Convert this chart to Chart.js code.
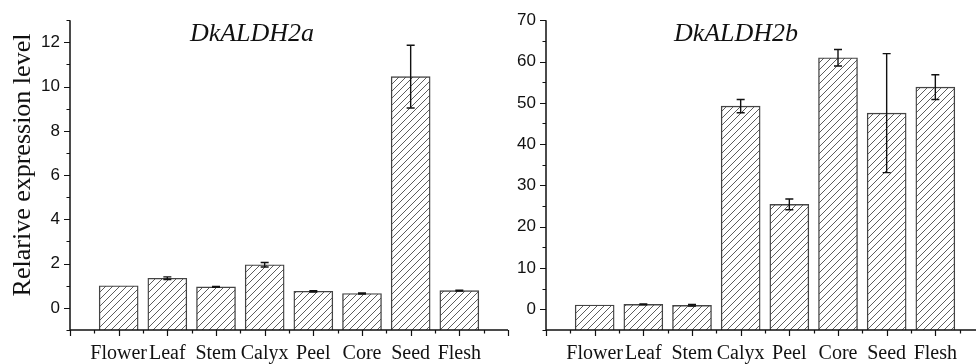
<!DOCTYPE html>
<html>
<head>
<meta charset="utf-8">
<script src="https://cdn.jsdelivr.net/npm/chart.js@4.4.0/dist/chart.umd.min.js"></script>
<style>
  html, body { margin: 0; padding: 0; background: #fff; overflow: hidden; width: 976px; height: 364px; position: relative; }
  canvas { position: absolute; top: 0; }
  #chartA { left: 0; }
  #chartB { left: 476px; }
</style>
</head>
<body>
<canvas id="chartA" width="520" height="364"></canvas>
<canvas id="chartB" width="520" height="364"></canvas>
<script>
// tissues
const categories = ['Flower', 'Leaf', 'Stem', 'Calyx', 'Peel', 'Core', 'Seed', 'Flesh'];

// DkALDH2a
const valuesA = [1.0, 1.34, 0.95, 1.95, 0.75, 0.65, 10.45, 0.78];
const errorsA = [0, 0.06, 0.02, 0.1, 0.03, 0.02, 1.42, 0.02];

// DkALDH2b
const valuesB = [1.04, 1.2, 0.97, 49.2, 25.4, 60.9, 47.5, 53.8];
const errorsB = [0, 0.1, 0.2, 1.6, 1.3, 2.0, 14.4, 3.0];

const INK = '#111';

function hatchPattern() {
  const c = document.createElement('canvas');
  c.width = 7; c.height = 7;
  const g = c.getContext('2d');
  g.fillStyle = '#fff';
  g.fillRect(0, 0, 7, 7);
  g.strokeStyle = '#333';
  g.lineWidth = 0.8;
  g.beginPath();
  g.moveTo(-1, 8); g.lineTo(8, -1);
  g.moveTo(-1, 1); g.lineTo(1, -1);
  g.moveTo(6, 8); g.lineTo(8, 6);
  g.stroke();
  return g.createPattern(c, 'repeat');
}

// axes, tick marks, error bars and panel title
function decor(title, titleX, errors, yMinor, yLabelEvery, yTitle) {
  return {
    id: 'decor',
    afterDatasetsDraw(chart) {
      const ctx = chart.ctx;
      const xs = chart.scales.x, ys = chart.scales.y;
      const vals = chart.data.datasets[0].data;
      ctx.save();
      ctx.strokeStyle = INK;
      ctx.lineWidth = 1.4;
      vals.forEach((p, i) => {
        const e = errors[i];
        if (!e) return;
        const x = xs.getPixelForValue(p.x);
        const t = ys.getPixelForValue(p.y + e);
        const b = ys.getPixelForValue(p.y - e);
        ctx.beginPath();
        ctx.moveTo(x, t); ctx.lineTo(x, b);
        ctx.moveTo(x - 4, t); ctx.lineTo(x + 4, t);
        ctx.moveTo(x - 4, b); ctx.lineTo(x + 4, b);
        ctx.stroke();
      });
      ctx.restore();
    },
    afterDraw(chart) {
      const ctx = chart.ctx;
      const xs = chart.scales.x, ys = chart.scales.y;
      const a = chart.chartArea;
      ctx.save();
      ctx.strokeStyle = INK;
      ctx.lineWidth = 1.5;
      ctx.beginPath();
      ctx.moveTo(a.left, a.top); ctx.lineTo(a.left, a.bottom);
      ctx.moveTo(a.left, a.bottom); ctx.lineTo(a.right, a.bottom);
      ctx.stroke();
      ctx.lineWidth = 1.2;
      ctx.beginPath();
      for (let v = xs.min; v <= xs.max; v += 0.5) {
        const x = Math.round(xs.getPixelForValue(v)) + 0.5;
        const len = Number.isInteger(v) ? 6 : 3.5;
        ctx.moveTo(x, a.bottom); ctx.lineTo(x, a.bottom + len);
      }
      for (let v = ys.min; v <= ys.max; v += yMinor) {
        const y = Math.round(ys.getPixelForValue(v)) + 0.5;
        const len = (v % yLabelEvery === 0) ? 6 : 3.5;
        ctx.moveTo(a.left, y); ctx.lineTo(a.left - len, y);
      }
      ctx.stroke();
      ctx.fillStyle = INK;
      ctx.font = 'italic 26px "Liberation Serif"';
      ctx.textAlign = 'center';
      ctx.textBaseline = 'alphabetic';
      ctx.fillText(title, titleX, 41);
      if (yTitle) {
        ctx.translate(23, 165);
        ctx.rotate(-Math.PI / 2);
        ctx.font = '26px "Liberation Serif"';
        ctx.textBaseline = 'middle';
        ctx.fillText(yTitle, 0, 0);
      }
      ctx.restore();
    }
  };
}

function buildChart(id, values, errors, yMin, yMax, yMinor, yLabelEvery, title, titleX, yTitle) {
  const ctx = document.getElementById(id).getContext('2d');
  return new Chart(ctx, {
    type: 'bar',
    data: {
      datasets: [{
        data: values.map((v, i) => ({ x: i + 1, y: v })),
        base: yMin,
        backgroundColor: hatchPattern(),
        borderColor: '#444',
        borderWidth: 1.4,
        barThickness: 39
      }]
    },
    options: {
      responsive: false,
      animation: false,
      layout: { padding: { top: 20, right: 9, left: 0, bottom: 0 } },
      plugins: { legend: { display: false }, tooltip: { enabled: false } },
      scales: {
        x: {
          type: 'linear',
          offset: false,
          min: 0,
          max: 9,
          grid: { display: false, drawTicks: false, offset: false },
          border: { display: false },
          afterFit: (s) => { s.height = 34; },
          ticks: {
            stepSize: 0.5,
            autoSkip: false,
            maxRotation: 0,
            padding: 12,
            color: INK,
            font: { family: 'Liberation Serif', size: 20 },
            callback: (v) => (Number.isInteger(v) && v >= 1 && v <= 8) ? categories[v - 1] : ''
          }
        },
        y: {
          min: yMin,
          max: yMax,
          grid: { display: false, drawTicks: false },
          border: { display: false },
          afterFit: (s) => { s.width = 70; },
          ticks: {
            stepSize: yMinor,
            autoSkip: false,
            padding: 10,
            color: INK,
            font: { family: 'Liberation Sans', size: 17 },
            callback: (v) => (v >= 0 && v % yLabelEvery === 0) ? v : ''
          }
        }
      }
    },
    plugins: [decor(title, titleX, errors, yMinor, yLabelEvery, yTitle)]
  });
}

const chartA = buildChart('chartA', valuesA, errorsA, -1, 13, 1, 2, 'DkALDH2a', 252, 'Relarive expression level');
const chartB = buildChart('chartB', valuesB, errorsB, -5, 70, 5, 10, 'DkALDH2b', 736 - 476, null);
</script>
</body>
</html>
